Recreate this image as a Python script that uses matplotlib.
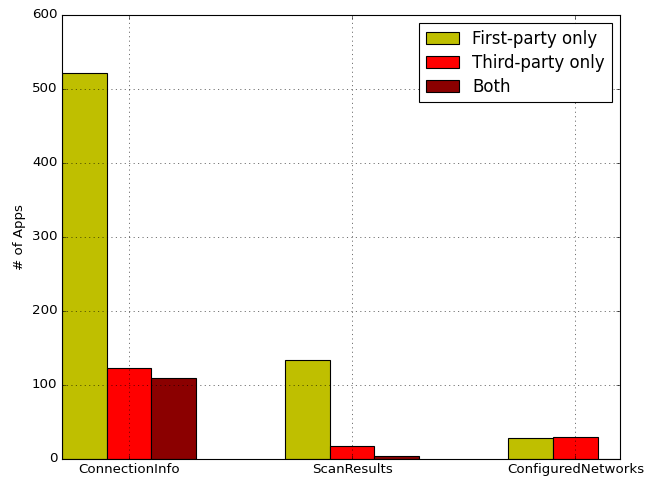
import numpy as np
import matplotlib.pyplot as plt

plt.style.use('classic')

categories = ['ConnectionInfo', 'ScanResults', 'ConfiguredNetworks']
first_party = [521, 134, 29]
third_party = [123, 18, 30]
both = [109, 4, 0]

width = 0.2
ind = np.arange(len(categories))

fig = plt.figure(figsize=(8.1, 5.9875), dpi=80)
ax = fig.add_axes([62 / 648, 20 / 479, 558 / 648, 444 / 479])

ax.bar(ind, first_party, width, align='edge', color='y', label='First-party only')
ax.bar(ind + width, third_party, width, align='edge', color='r', label='Third-party only')
ax.bar(ind + 2 * width, both, width, align='edge', color='darkred', label='Both')

ax.set_xticks(ind + 1.5 * width)
ax.set_xticklabels(categories)
ax.set_xlim(0, 2.5)
ax.set_ylim(0, 600)
ax.set_ylabel('# of Apps')
ax.grid(True)
ax.legend(loc='upper right', fontsize=15, labelspacing=0.35)

fig.savefig('out.png', dpi=80)
